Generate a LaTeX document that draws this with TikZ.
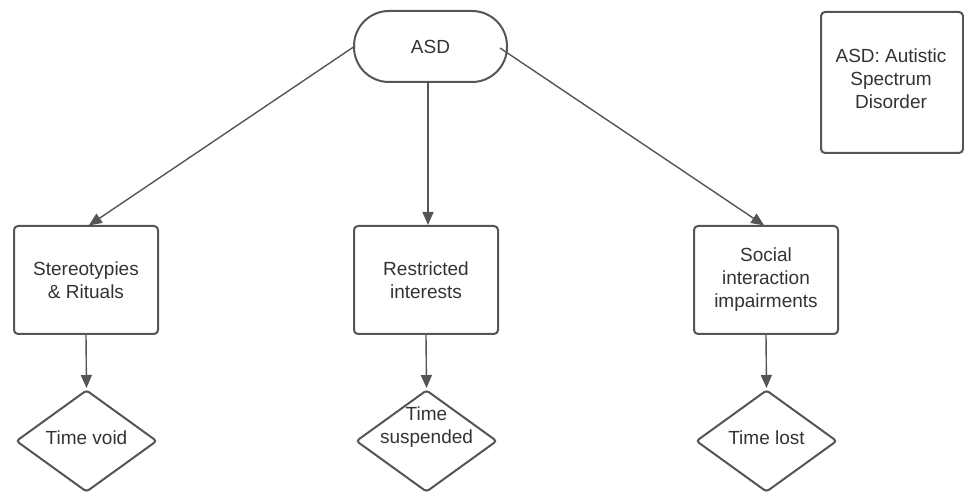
\documentclass[tikz,border=0pt]{standalone}
\usepackage{fontspec}
\setmainfont{Liberation Sans}
\usetikzlibrary{shapes.geometric,arrows.meta}
\definecolor{linec}{HTML}{555555}
\definecolor{textc}{HTML}{333333}
\tikzset{
  every node/.style={text=textc, font=\fontsize{19}{23}\selectfont, align=center},
  boxnode/.style={draw=linec, line width=2pt, rounded corners=4pt, minimum width=144pt, minimum height=108pt, inner sep=0pt},
  pillnode/.style={draw=linec, line width=2pt, rounded corners=35pt, minimum width=153pt, minimum height=71pt, inner sep=0pt},
  dianode/.style={draw=linec, line width=2pt, diamond, aspect=1.38, minimum width=141pt, minimum height=102pt, inner sep=0pt, rounded corners=3pt},
  txt/.style={inner sep=0pt},
  conn/.style={draw=linec, line width=1.4pt, -{Triangle[length=13pt,width=11pt]}, shorten >=1pt}
}
\begin{document}
\begin{tikzpicture}[x=1pt,y=-1pt]
\useasboundingbox (0,0) rectangle (964,494);
\node[pillnode] (asd) at (430.5,46.5) {ASD};
\node[boxnode] (b1) at (86,280) {Stereotypies\\\& Rituals};
\node[boxnode] (b2) at (426,280) {Restricted\\interests};
\node[boxnode] (b3) at (766,280) {Social\\interaction\\impairments};
\node[boxnode, minimum width=142pt, minimum height=141pt] (leg) at (892,82.5) {};
\node[txt] (legt) at (891,79) {ASD: Autistic\\Spectrum\\Disorder};
\node[dianode] (d1) at (86.5,441) {};
\node[dianode] (d2) at (426.5,441) {};
\node[dianode] (d3) at (766.5,441) {};
\node[txt] (t1) at (86.5,438) {Time void};
\node[txt] (t2) at (426.5,427) {Time\\suspended};
\node[txt] (t3) at (766.5,438) {Time lost};
\coordinate (s1) at (355,46);
\coordinate (s3) at (500,48);
\coordinate (e1) at (88,226);
\coordinate (e2) at (428,226);
\coordinate (e3) at (765,226);
\draw[conn] (s1) -- (e1);
\draw[conn] (asd.south -| e2) -- (e2);
\draw[conn] (s3) -- (e3);
\draw[conn] (b1.south) -- (d1.north);
\draw[conn] (b2.south) -- (d2.north);
\draw[conn] (b3.south) -- (d3.north);
\end{tikzpicture}
\end{document}
